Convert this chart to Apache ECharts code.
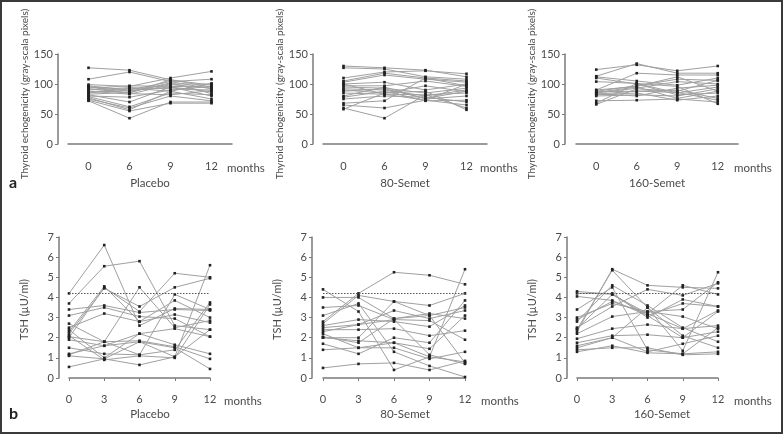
<!DOCTYPE html>
<html><head><meta charset="utf-8">
<script src="https://cdn.jsdelivr.net/npm/echarts@6/dist/echarts.min.js"></script>
<style>html,body{margin:0;padding:0;background:#fff}#c{width:783px;height:434px}</style>
</head><body><div id="c"></div>
<script>
// ---- data ----
var monthsTop = ['0','6','9','12'];
var monthsBottom = ['0','3','6','9','12'];
var groups = ['Placebo','80-Semet','160-Semet'];
var echoPlacebo = [
 [127,123,107,95],[108,120,104,92],[99,96,110,121],[97,90,104,108],[95,88,100,100],
 [93,97,96,95],[92,85,107,98],[90,94,92,90],[88,83,99,93],[86,89,95,87],
 [85,93,88,101],[83,86,102,84],[82,70,95,80],[80,78,90,96],[79,62,85,82],
 [77,57,88,75],[75,60,80,72],[73,55,68,68],[72,43,70,70],[96,84,82,89]
];
var echo80 = [
 [130,127,123,112],[127,125,112,108],[110,120,122,117],[105,118,110,105],[103,115,108,103],
 [100,103,90,100],[97,97,105,96],[95,93,85,93],[92,90,80,90],[90,85,97,87],
 [85,83,82,85],[80,95,75,80],[78,88,72,73],[75,80,78,70],[68,72,110,97],
 [65,60,73,65],[60,43,82,60],[58,85,88,57],[88,92,76,88],[100,83,73,100]
];
var echo160 = [
 [124,132,122,130],[113,134,118,118],[112,105,98,110],[104,101,85,95],[90,118,115,115],
 [88,97,108,106],[86,95,76,88],[85,93,104,100],[83,88,90,76],[82,85,73,80],
 [80,82,80,92],[72,73,75,70],[68,101,96,67],[66,92,88,106],[87,88,86,73],
 [90,96,112,88],[84,80,93,98],[110,100,82,85]
];
var tshPlacebo = [
 [4.2,6.6,2.6,3.45,3.4],[3.7,5.55,5.8,2.6,2.4],[2.0,4.5,3.3,5.2,5.0],[2.2,4.45,3.55,4.5,4.95],
 [2.3,4.55,2.8,3.85,3.0],[3.4,3.6,3.25,3.4,3.35],[3.1,3.5,3.05,2.95,2.05],[2.5,3.2,2.8,3.15,2.75],
 [2.7,1.8,4.5,2.5,2.85],[2.4,1.0,2.2,2.45,2.05],[1.9,1.6,2.2,1.65,1.2],[1.15,1.8,1.85,1.55,0.95],
 [1.2,1.6,1.8,1.05,5.6],[1.1,0.95,1.8,1.5,0.45],[1.5,1.2,1.15,1.4,3.75],[2.1,0.9,1.1,1.0,3.65],
 [0.55,0.95,0.65,1.05,2.4],[2.05,1.8,1.15,4.15,3.4]
];
var tsh80 = [
 [4.4,3.3,0.4,1.05,5.4],[4.0,4.0,2.95,3.1,3.5],[2.8,4.2,5.25,5.1,4.65],[3.5,3.6,2.9,2.85,1.9],
 [2.7,4.1,3.8,3.6,4.2],[3.1,3.7,1.3,0.6,0.05],[2.6,2.9,2.8,2.55,3.6],[2.5,2.65,3.35,2.95,3.35],
 [2.4,2.4,2.45,2.1,2.35],[2.3,2.65,2.9,1.15,0.7],[2.0,1.85,1.75,1.45,3.1],[2.05,1.75,2.95,3.2,2.95],
 [1.7,1.2,2.0,1.75,3.85],[1.4,1.5,1.5,0.95,1.3],[0.5,0.7,0.75,0.4,0.85],[2.0,2.0,3.8,3.1,0.75],
 [2.2,1.5,1.75,1.05,0.8]
];
var tsh160 = [
 [2.3,5.4,4.6,4.5,4.45],[2.4,5.35,3.5,2.1,1.5],[4.3,4.15,3.2,4.6,4.15],[4.2,4.2,3.0,3.9,3.55],
 [4.05,3.85,3.1,3.7,3.55],[3.4,4.5,1.4,1.2,2.5],[3.0,3.7,3.3,3.05,2.45],[2.8,4.6,3.6,2.5,1.8],
 [2.5,3.55,4.4,4.1,4.7],[2.2,3.05,3.3,3.4,4.75],[1.95,2.45,2.65,2.45,2.6],[1.75,2.1,2.15,2.0,3.3],
 [1.6,2.0,3.5,1.35,5.25],[1.4,1.5,1.5,1.15,1.2],[1.3,1.6,1.25,1.2,1.3],[1.5,2.0,1.3,1.7,2.1],
 [2.45,4.15,3.1,2.0,2.3],[2.9,3.8,3.2,2.45,3.35]
];
var tshUpperLimit = 4.2;
var echoAxisName = 'Thyroid echogenicity (gray-scala pixels)';
var tshAxisName = 'TSH (\u00b5U/ml)';

// ---- layout ----
var FONT = 'Lato, "Open Sans", sans-serif';
var txt = '#4a4a4a';
var axisCol = '#7a7a7a';
var panels = [
 {grid:{left:68,top:54,width:164,height:90}, yOff:10, cats:monthsTop, data:echoPlacebo, max:150, interval:50, name:echoAxisName, top:true},
 {grid:{left:323,top:54,width:164,height:90}, yOff:10, cats:monthsTop, data:echo80, max:150, interval:50, name:echoAxisName, top:true},
 {grid:{left:576,top:54,width:162,height:90}, yOff:11, cats:monthsTop, data:echo160, max:150, interval:50, name:echoAxisName, top:true},
 {grid:{left:69,top:237,width:141,height:141}, yOff:10, cats:monthsBottom, data:tshPlacebo, max:7, interval:1, name:tshAxisName, top:false},
 {grid:{left:323,top:237,width:142,height:141}, yOff:11, cats:monthsBottom, data:tsh80, max:7, interval:1, name:tshAxisName, top:false},
 {grid:{left:577,top:237,width:141,height:141}, yOff:10, cats:monthsBottom, data:tsh160, max:7, interval:1, name:tshAxisName, top:false}
];
var grids=[], xAxes=[], yAxes=[], series=[];
panels.forEach(function(p,i){
  grids.push(p.grid);
  xAxes.push({type:'category', gridIndex:i, data:p.cats, boundaryGap:p.top, offset:p.top?10:9,
    axisLine:{lineStyle:{color:axisCol,width:1.5}},
    axisTick:{alignWithLabel:true,length:3,lineStyle:{color:axisCol}},
    axisLabel:{color:txt,fontSize:11,fontFamily:FONT,margin:7}, splitLine:{show:false}});
  yAxes.push({type:'value', gridIndex:i, min:0, max:p.max, interval:p.interval, offset:p.yOff,
    name:p.name, nameLocation:'middle', nameGap:p.top?28:29, nameRotate:90,
    nameTextStyle:{color:txt,fontSize:p.top?10:11,fontFamily:FONT, padding:p.top?[0,0,0,10]:[0,0,0,-4]},
    axisLine:{show:true,lineStyle:{color:axisCol,width:1.5}},
    axisTick:{show:true,length:3,lineStyle:{color:axisCol}},
    axisLabel:{color:txt,fontSize:11,fontFamily:FONT,margin:5}, splitLine:{show:false}});
  p.data.forEach(function(row,k){
    var s = {type:'line', xAxisIndex:i, yAxisIndex:i, data:row, symbol:'rect', symbolSize:2.6,
      itemStyle:{color:'#222'}, lineStyle:{color:'#a0a0a0',width:1}, silent:true, z:2};
    if(!p.top && k===0){
      s.markLine = {silent:true, symbol:'none', label:{show:false},
        lineStyle:{color:'#555',type:[1.5,1.5],width:1}, data:[{yAxis:tshUpperLimit}]};
    }
    series.push(s);
  });
});
function t(x,y,text,opts){
  var st = Object.assign({text:text, fill:txt, font:'11.5px '+FONT, textAlign:'left', textVerticalAlign:'middle'}, opts||{});
  return {type:'text', x:x, y:y, style:st, silent:true};
}
var graphic = [
  {type:'rect', shape:{x:1,y:1,width:781,height:432}, style:{fill:'none',stroke:'#3a3a3a',lineWidth:2}, silent:true},
  t(227,168,'months'), t(480,168,'months'), t(734,168,'months'),
  t(224,401,'months'), t(481,401,'months'), t(734,401,'months'),
  t(150,183,groups[0],{textAlign:'center'}), t(405,183,groups[1],{textAlign:'center'}), t(657,183,groups[2],{textAlign:'center'}),
  t(150,414,groups[0],{textAlign:'center'}), t(405,414,groups[1],{textAlign:'center'}), t(662,414,groups[2],{textAlign:'center'}),
  t(9,183,'a',{font:'bold 16px '+FONT, fill:'#222'}), t(9,414,'b',{font:'bold 16px '+FONT, fill:'#222'})
];
var chart = echarts.init(document.getElementById('c'), null, {renderer:'canvas'});
chart.setOption({animation:false, backgroundColor:'#fff', grid:grids, xAxis:xAxes, yAxis:yAxes, series:series, graphic:graphic});
</script></body></html>
